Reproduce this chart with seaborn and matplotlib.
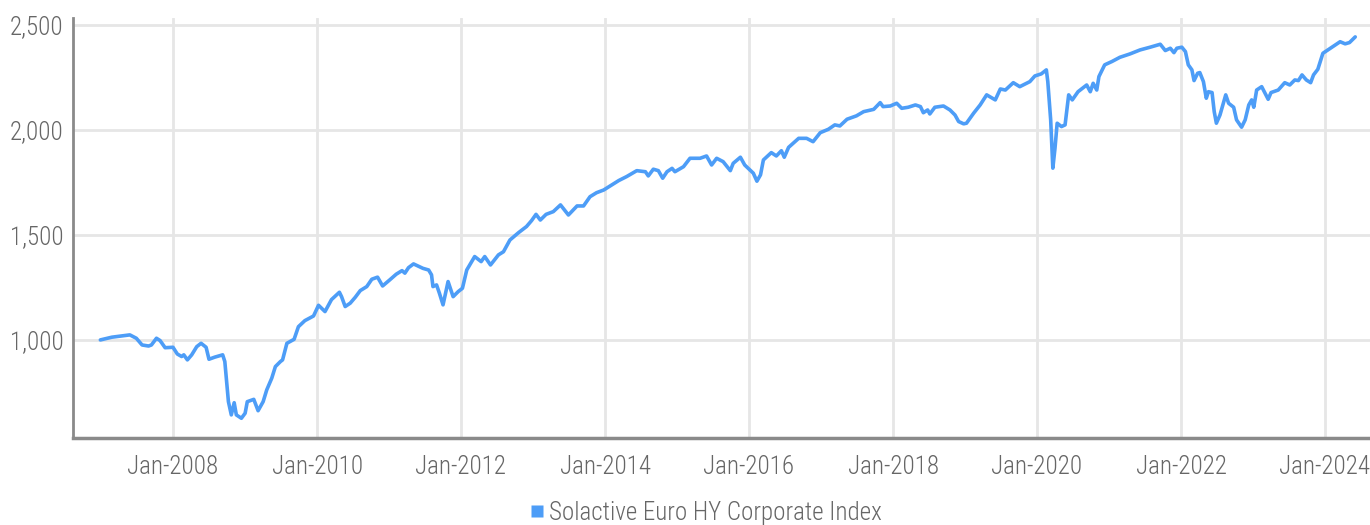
import numpy as np
import pandas as pd
import matplotlib
matplotlib.use("Agg")
import matplotlib.pyplot as plt
import matplotlib.dates as mdates
from matplotlib.ticker import FuncFormatter, FixedLocator
from matplotlib.lines import Line2D
from matplotlib import font_manager
import seaborn as sns

# ========== data (decimal year, index level) ==========
years = [
    2006.99, 2007.15, 2007.40, 2007.49, 2007.57, 2007.66, 2007.70, 2007.77, 2007.82, 2007.89,
    2008.00, 2008.06, 2008.12, 2008.15, 2008.20, 2008.26, 2008.33, 2008.39, 2008.46, 2008.50,
    2008.58, 2008.69, 2008.72, 2008.77, 2008.81, 2008.85, 2008.88, 2008.95, 2009.00, 2009.03,
    2009.12, 2009.18, 2009.25, 2009.30, 2009.37, 2009.42, 2009.49, 2009.52, 2009.58, 2009.68,
    2009.74, 2009.83, 2009.95, 2010.02, 2010.11, 2010.20, 2010.31, 2010.34, 2010.39, 2010.46,
    2010.53, 2010.60, 2010.69, 2010.76, 2010.84, 2010.91, 2011.01, 2011.10, 2011.18, 2011.22,
    2011.27, 2011.34, 2011.47, 2011.55, 2011.59, 2011.61, 2011.66, 2011.70, 2011.75, 2011.82,
    2011.89, 2011.96, 2012.02, 2012.08, 2012.19, 2012.28, 2012.33, 2012.41, 2012.52, 2012.59,
    2012.68, 2012.80, 2012.91, 2012.98, 2013.04, 2013.10, 2013.18, 2013.28, 2013.38, 2013.49,
    2013.61, 2013.70, 2013.79, 2013.88, 2013.98, 2014.07, 2014.19, 2014.30, 2014.44, 2014.56,
    2014.60, 2014.67, 2014.74, 2014.80, 2014.86, 2014.93, 2014.97, 2015.09, 2015.18, 2015.32,
    2015.41, 2015.48, 2015.55, 2015.64, 2015.74, 2015.78, 2015.88, 2015.94, 2016.01, 2016.06,
    2016.11, 2016.16, 2016.20, 2016.31, 2016.38, 2016.45, 2016.49, 2016.55, 2016.69, 2016.80,
    2016.89, 2016.99, 2017.10, 2017.19, 2017.26, 2017.36, 2017.49, 2017.59, 2017.73, 2017.82,
    2017.86, 2017.96, 2018.05, 2018.12, 2018.21, 2018.31, 2018.38, 2018.42, 2018.48, 2018.51,
    2018.58, 2018.70, 2018.79, 2018.86, 2018.91, 2018.98, 2019.02, 2019.12, 2019.21, 2019.30,
    2019.42, 2019.49, 2019.56, 2019.67, 2019.76, 2019.90, 2019.97, 2020.06, 2020.13, 2020.15,
    2020.19, 2020.22, 2020.25, 2020.28, 2020.34, 2020.39, 2020.44, 2020.49, 2020.57, 2020.69,
    2020.74, 2020.78, 2020.83, 2020.86, 2020.94, 2021.04, 2021.15, 2021.29, 2021.43, 2021.57,
    2021.71, 2021.78, 2021.85, 2021.90, 2021.94, 2022.01, 2022.06, 2022.10, 2022.15, 2022.18,
    2022.23, 2022.26, 2022.31, 2022.35, 2022.38, 2022.43, 2022.46, 2022.49, 2022.54, 2022.62,
    2022.66, 2022.73, 2022.77, 2022.84, 2022.89, 2022.94, 2022.98, 2023.01, 2023.05, 2023.12,
    2023.21, 2023.25, 2023.35, 2023.44, 2023.51, 2023.58, 2023.63, 2023.68, 2023.74, 2023.80,
    2023.84, 2023.90, 2023.97, 2024.04, 2024.12, 2024.21, 2024.28, 2024.34, 2024.42,
]
index_level = [
    1000, 1013, 1024, 1008, 976, 971, 976, 1008, 997, 963,
    965, 933, 921, 929, 905, 929, 968, 984, 965, 908,
    918, 929, 897, 706, 643, 701, 643, 627, 651, 706,
    717, 663, 706, 762, 818, 873, 897, 905, 984, 1003,
    1063, 1092, 1114, 1165, 1135, 1192, 1227, 1206, 1159, 1175,
    1203, 1235, 1254, 1289, 1299, 1257, 1286, 1313, 1330, 1318,
    1344, 1362, 1341, 1333, 1310, 1254, 1262, 1222, 1167, 1278,
    1206, 1230, 1246, 1333, 1397, 1373, 1397, 1357, 1405, 1420,
    1476, 1511, 1540, 1568, 1598, 1571, 1598, 1611, 1643, 1595,
    1638, 1638, 1682, 1701, 1714, 1733, 1759, 1778, 1806, 1801,
    1781, 1813, 1806, 1770, 1801, 1817, 1801, 1825, 1865, 1865,
    1876, 1833, 1865, 1849, 1806, 1841, 1870, 1833, 1810, 1794,
    1756, 1786, 1857, 1892, 1876, 1901, 1870, 1917, 1960, 1960,
    1944, 1987, 2003, 2024, 2019, 2051, 2067, 2087, 2098, 2130,
    2111, 2114, 2127, 2103, 2108, 2119, 2111, 2082, 2095, 2076,
    2108, 2114, 2095, 2071, 2040, 2029, 2032, 2080, 2119, 2167,
    2143, 2195, 2190, 2225, 2206, 2230, 2257, 2267, 2286, 2230,
    2048, 1818, 1913, 2032, 2016, 2024, 2167, 2143, 2182, 2214,
    2182, 2222, 2190, 2254, 2310, 2326, 2346, 2362, 2381, 2394,
    2408, 2378, 2389, 2368, 2389, 2394, 2373, 2310, 2286, 2235,
    2270, 2273, 2230, 2151, 2182, 2178, 2087, 2032, 2071, 2167,
    2127, 2108, 2048, 2013, 2048, 2119, 2143, 2108, 2190, 2206,
    2146, 2178, 2190, 2225, 2214, 2238, 2235, 2262, 2238, 2225,
    2262, 2289, 2365, 2381, 2400, 2420, 2410, 2416, 2443,
]
series_name = "Solactive Euro HY Corporate Index"
y_ticks = [1000, 1500, 2000, 2500]
x_tick_years = list(range(2008, 2025, 2))


def to_date(y):
    base = pd.Timestamp(f"{int(y)}-01-01")
    return base + pd.Timedelta(days=(y - int(y)) * 365.25)


df = pd.DataFrame({"date": [to_date(y) for y in years], "level": index_level})

# ========== style ==========
sns.set_style("whitegrid")
available = {f.name for f in font_manager.fontManager.ttflist}
font_choice = "DejaVu Sans"
for cand in ["Roboto Condensed", "Liberation Sans Narrow", "DejaVu Sans Condensed", "Roboto"]:
    if cand in available:
        font_choice = cand
        break
plt.rcParams["font.family"] = [font_choice, "DejaVu Sans"]
condensed = font_choice not in ("Roboto", "DejaVu Sans")
fsize = 18 if condensed else 15

line_color = "#4d9df7"
grid_color = "#e6e6e6"
text_color = "#666666"

fig = plt.figure(figsize=(13.7, 5.25), dpi=100)
ax = fig.add_axes([73 / 1370, 1 - 438 / 525, 1 - 73 / 1370, (438 - 18) / 525])

sns.lineplot(data=df, x="date", y="level", ax=ax, color=line_color, linewidth=2.6, legend=False)

ax.set_xlim(to_date(2006.61), to_date(2024.625))
ax.set_ylim(533, 2533)

ax.yaxis.set_major_locator(FixedLocator(y_ticks))
ax.yaxis.set_major_formatter(FuncFormatter(lambda v, p: f"{v:,.0f}"))
ax.xaxis.set_major_locator(FixedLocator([mdates.date2num(pd.Timestamp(f"{y}-01-01")) for y in x_tick_years]))
ax.xaxis.set_major_formatter(mdates.DateFormatter("%b-%Y"))

ax.grid(True, color=grid_color, linewidth=2)
ax.set_axisbelow(True)
ax.set_xlabel("")
ax.set_ylabel("")

for s in ["top", "right"]:
    ax.spines[s].set_visible(False)
ax.spines["left"].set_color("#8a8a8a")
ax.spines["left"].set_linewidth(2)
ax.spines["bottom"].set_color("#8a8a8a")
ax.spines["bottom"].set_linewidth(2.5)

ax.tick_params(axis="both", length=0, labelsize=fsize, labelcolor=text_color)
ax.tick_params(axis="x", pad=12)
ax.tick_params(axis="y", pad=7)
for lab in ax.get_xticklabels() + ax.get_yticklabels():
    lab.set_fontweight("light")

handle = Line2D([], [], linestyle="none", marker="s", markersize=8.5,
                markerfacecolor=line_color, markeredgecolor="none")
leg = fig.legend([handle], [series_name], loc="center", bbox_to_anchor=(0.515, 0.023),
                 frameon=False, fontsize=fsize, handlelength=0.6,
                 handletextpad=0.2, labelcolor=text_color)
for t in leg.get_texts():
    t.set_fontweight("light")

fig.savefig("out.png", dpi=100)
